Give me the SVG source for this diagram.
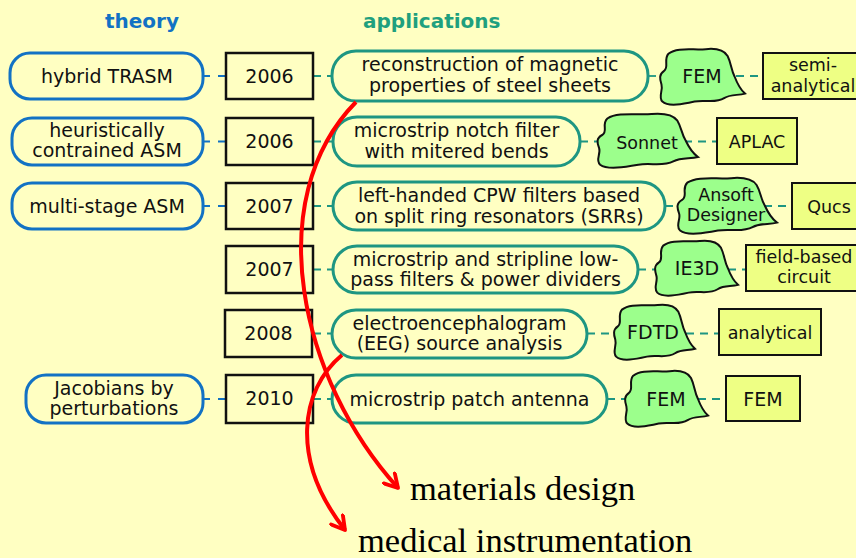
<svg xmlns="http://www.w3.org/2000/svg" xmlns:xlink="http://www.w3.org/1999/xlink" width="856" height="558" viewBox="0 0 856 558">
  <style>
    .bg { fill: #FFFFC2; }
    .title { font-family: "DejaVu Sans", "Open Sans", sans-serif; font-weight: bold; font-size: 20px; }
    .t { font-family: "DejaVu Sans", "Liberation Sans", sans-serif; font-size: 19px; fill: #111; text-anchor: middle; }
    .s { font-size: 17.5px; }
    .theory { fill: #FFFFC2; stroke: #1272C4; stroke-width: 3; }
    .year { fill: #FFFFC2; stroke: #111; stroke-width: 2.5; }
    .app { fill: #FFFFC2; stroke: #1E9682; stroke-width: 3; }
    .tool { fill: #9CFF8C; stroke: #111; stroke-width: 2; vector-effect: non-scaling-stroke; }
    .kind { fill: #EEFF84; stroke: #111; stroke-width: 2; }
    .c-blue { stroke: #1272C4; stroke-width: 1.8; stroke-dasharray: 7 8; fill: none; }
    .c-teal { stroke: #1E9682; stroke-width: 1.8; stroke-dasharray: 8 6; fill: none; }
    .flow { stroke: #FF0000; stroke-width: 4; fill: none; marker-end: url(#vhead); }
    .big { font-family: "Liberation Serif", "Times New Roman", serif; font-size: 34.5px; fill: #000; }
  </style>
  <defs>
    <!-- irregular blob used for the simulator nodes, drawn in a 100x100 box -->
    <path id="blob" class="tool" d="M12,10 C22,-2 40,4 55,2 C68,0 76,4 80,14 C84,26 84,38 88,50 C91,62 94,72 100,80 C92,84 84,80 76,88 C66,98 54,90 42,94 C30,98 12,104 5,94 C0,86 6,74 4,64 C2,54 1,46 7,40 C13,34 6,20 12,10 Z"/>
    <marker id="vhead" viewBox="0 0 18 18" refX="15" refY="9" markerWidth="18" markerHeight="18" markerUnits="userSpaceOnUse" orient="auto">
      <path d="M2,1.5 L15,9 L2,16.5" fill="none" stroke="#FF0000" stroke-width="3.8" stroke-linecap="round" stroke-linejoin="round"/>
    </marker>
  </defs>

  <rect class="bg" x="0" y="0" width="856" height="558"/>

  <text class="title" x="105" y="28" fill="#1272C4">theory</text>
  <text class="title" x="363" y="28" fill="#1FA07E">applications</text>

  <!-- connectors -->
  <g id="connectors">
    <line class="c-blue" x1="203" y1="76" x2="226" y2="76"/>
    <line class="c-blue" x1="203" y1="141.5" x2="226" y2="141.5"/>
    <line class="c-blue" x1="203" y1="206" x2="226" y2="206"/>
    <line class="c-blue" x1="203" y1="399" x2="226" y2="399"/>

    <line class="c-teal" x1="313" y1="76" x2="332" y2="76"/>
    <line class="c-teal" x1="313" y1="141.5" x2="333" y2="141.5"/>
    <line class="c-teal" x1="313" y1="206" x2="333" y2="206"/>
    <line class="c-teal" x1="313" y1="269.5" x2="333" y2="269.5"/>
    <line class="c-teal" x1="313" y1="333.5" x2="332" y2="333.5"/>
    <line class="c-teal" x1="313" y1="399" x2="332" y2="399"/>

    <line class="c-teal" x1="648" y1="76" x2="662" y2="76"/>
    <line class="c-teal" x1="580" y1="141.5" x2="600" y2="141.5"/>
    <line class="c-teal" x1="665" y1="206" x2="680" y2="206"/>
    <line class="c-teal" x1="638" y1="269.5" x2="657" y2="269.5"/>
    <line class="c-teal" x1="587" y1="333.5" x2="616" y2="333.5"/>
    <line class="c-teal" x1="607" y1="399" x2="627" y2="399"/>

    <line class="c-teal" x1="736" y1="76" x2="763" y2="76"/>
    <line class="c-teal" x1="684" y1="141.5" x2="717" y2="141.5"/>
    <line class="c-teal" x1="764" y1="206" x2="792" y2="206"/>
    <line class="c-teal" x1="728" y1="269.5" x2="746" y2="269.5"/>
    <line class="c-teal" x1="686" y1="333.5" x2="719" y2="333.5"/>
    <line class="c-teal" x1="698" y1="399" x2="726" y2="399"/>
  </g>

  <!-- theory nodes -->
  <g id="th-trasm">
    <rect class="theory" x="10" y="53" width="193" height="46" rx="20"/>
    <text class="t" x="107" y="83">hybrid TRASM</text>
  </g>
  <g id="th-heuristic">
    <rect class="theory" x="12" y="118" width="191" height="47" rx="20"/>
    <text class="t" x="107" y="137">heuristically</text>
    <text class="t" x="107" y="157">contrained ASM</text>
  </g>
  <g id="th-multistage">
    <rect class="theory" x="12" y="183" width="191" height="46" rx="20"/>
    <text class="t" x="107" y="213">multi-stage ASM</text>
  </g>
  <g id="th-jacobian">
    <rect class="theory" x="26" y="375" width="177" height="48" rx="20"/>
    <text class="t" x="114" y="395">Jacobians by</text>
    <text class="t" x="114" y="415">perturbations</text>
  </g>

  <!-- year nodes -->
  <g id="y1"><rect class="year" x="226" y="53" width="87" height="46"/><text class="t" x="269.5" y="83">2006</text></g>
  <g id="y2"><rect class="year" x="226" y="118" width="87" height="47"/><text class="t" x="269.5" y="148">2006</text></g>
  <g id="y3"><rect class="year" x="226" y="183" width="87" height="46"/><text class="t" x="269.5" y="213">2007</text></g>
  <g id="y4"><rect class="year" x="226" y="246" width="87" height="47"/><text class="t" x="269.5" y="276">2007</text></g>
  <g id="y5"><rect class="year" x="225" y="310" width="87" height="47"/><text class="t" x="268.5" y="340">2008</text></g>
  <g id="y6"><rect class="year" x="226" y="375" width="87" height="48"/><text class="t" x="269.5" y="405">2010</text></g>

  <!-- application nodes -->
  <g id="app-steel">
    <rect class="app" x="332" y="51" width="316" height="50" rx="24"/>
    <text class="t" x="490" y="71">reconstruction of magnetic</text>
    <text class="t" x="490" y="92">properties of steel sheets</text>
  </g>
  <g id="app-notch">
    <rect class="app" x="333" y="117" width="247" height="49" rx="24"/>
    <text class="t" x="456.5" y="137">microstrip notch filter</text>
    <text class="t" x="456.5" y="158">with mitered bends</text>
  </g>
  <g id="app-cpw">
    <rect class="app" x="333" y="182" width="332" height="48" rx="24"/>
    <text class="t" x="499" y="202">left-handed CPW filters based</text>
    <text class="t" x="499" y="223">on split ring resonators (SRRs)</text>
  </g>
  <g id="app-lowpass">
    <rect class="app" x="333" y="246" width="305" height="47" rx="24"/>
    <text class="t" x="485.5" y="266">microstrip and stripline low-</text>
    <text class="t" x="485.5" y="286">pass filters &amp; power dividers</text>
  </g>
  <g id="app-eeg">
    <rect class="app" x="332" y="310" width="255" height="48" rx="24"/>
    <text class="t" x="459.5" y="330">electroencephalogram</text>
    <text class="t" x="459.5" y="350">(EEG) source analysis</text>
  </g>
  <g id="app-patch">
    <rect class="app" x="332" y="375" width="275" height="48" rx="24"/>
    <text class="t" x="469.5" y="406">microstrip patch antenna</text>
  </g>

  <!-- simulator nodes -->
  <g id="tool-fem1">
    <use xlink:href="#blob" href="#blob" transform="translate(658,48) scale(0.87,0.57)"/>
    <text class="t" x="702" y="83">FEM</text>
  </g>
  <g id="tool-sonnet">
    <use xlink:href="#blob" href="#blob" transform="translate(595,113) scale(1.03,0.55)"/>
    <text class="t s" x="647" y="149">Sonnet</text>
  </g>
  <g id="tool-ansoft">
    <use xlink:href="#blob" href="#blob" transform="translate(675,177) scale(1.02,0.57)"/>
    <text class="t s" x="726" y="201">Ansoft</text>
    <text class="t s" x="726" y="221">Designer</text>
  </g>
  <g id="tool-ie3d">
    <use xlink:href="#blob" href="#blob" transform="translate(653,240) scale(0.85,0.56)"/>
    <text class="t" x="697" y="275">IE3D</text>
  </g>
  <g id="tool-fdtd">
    <use xlink:href="#blob" href="#blob" transform="translate(612,304) scale(0.83,0.56)"/>
    <text class="t" x="653" y="339">FDTD</text>
  </g>
  <g id="tool-fem2">
    <use xlink:href="#blob" href="#blob" transform="translate(623,370) scale(0.85,0.57)"/>
    <text class="t" x="666" y="406">FEM</text>
  </g>

  <!-- model-kind nodes -->
  <g id="kind-semi">
    <rect class="kind" x="763" y="53" width="104" height="46"/>
    <text class="t s" x="813" y="71">semi-</text>
    <text class="t s" x="813" y="92">analytical</text>
  </g>
  <g id="kind-aplac">
    <rect class="kind" x="717" y="118" width="80" height="46"/>
    <text class="t s" x="757" y="148">APLAC</text>
  </g>
  <g id="kind-qucs">
    <rect class="kind" x="792" y="183" width="76" height="46"/>
    <text class="t s" x="829" y="213">Qucs</text>
  </g>
  <g id="kind-field">
    <rect class="kind" x="746" y="245" width="116" height="46"/>
    <text class="t s" x="804" y="263">field-based</text>
    <text class="t s" x="804" y="283">circuit</text>
  </g>
  <g id="kind-analytical">
    <rect class="kind" x="719" y="309" width="102" height="46"/>
    <text class="t s" x="770" y="339">analytical</text>
  </g>
  <g id="kind-fem">
    <rect class="kind" x="726" y="376" width="74" height="45"/>
    <text class="t" x="763" y="406">FEM</text>
  </g>

  <!-- application domains -->
  <g id="flows">
    <path class="flow" d="M356,102 C260,200 300,380 398,488"/>
    <path class="flow" d="M342,355 C300,390 290,460 345,530"/>
  </g>
  <text class="big" x="410" y="500">materials design</text>
  <text class="big" x="358" y="552">medical instrumentation</text>
</svg>
